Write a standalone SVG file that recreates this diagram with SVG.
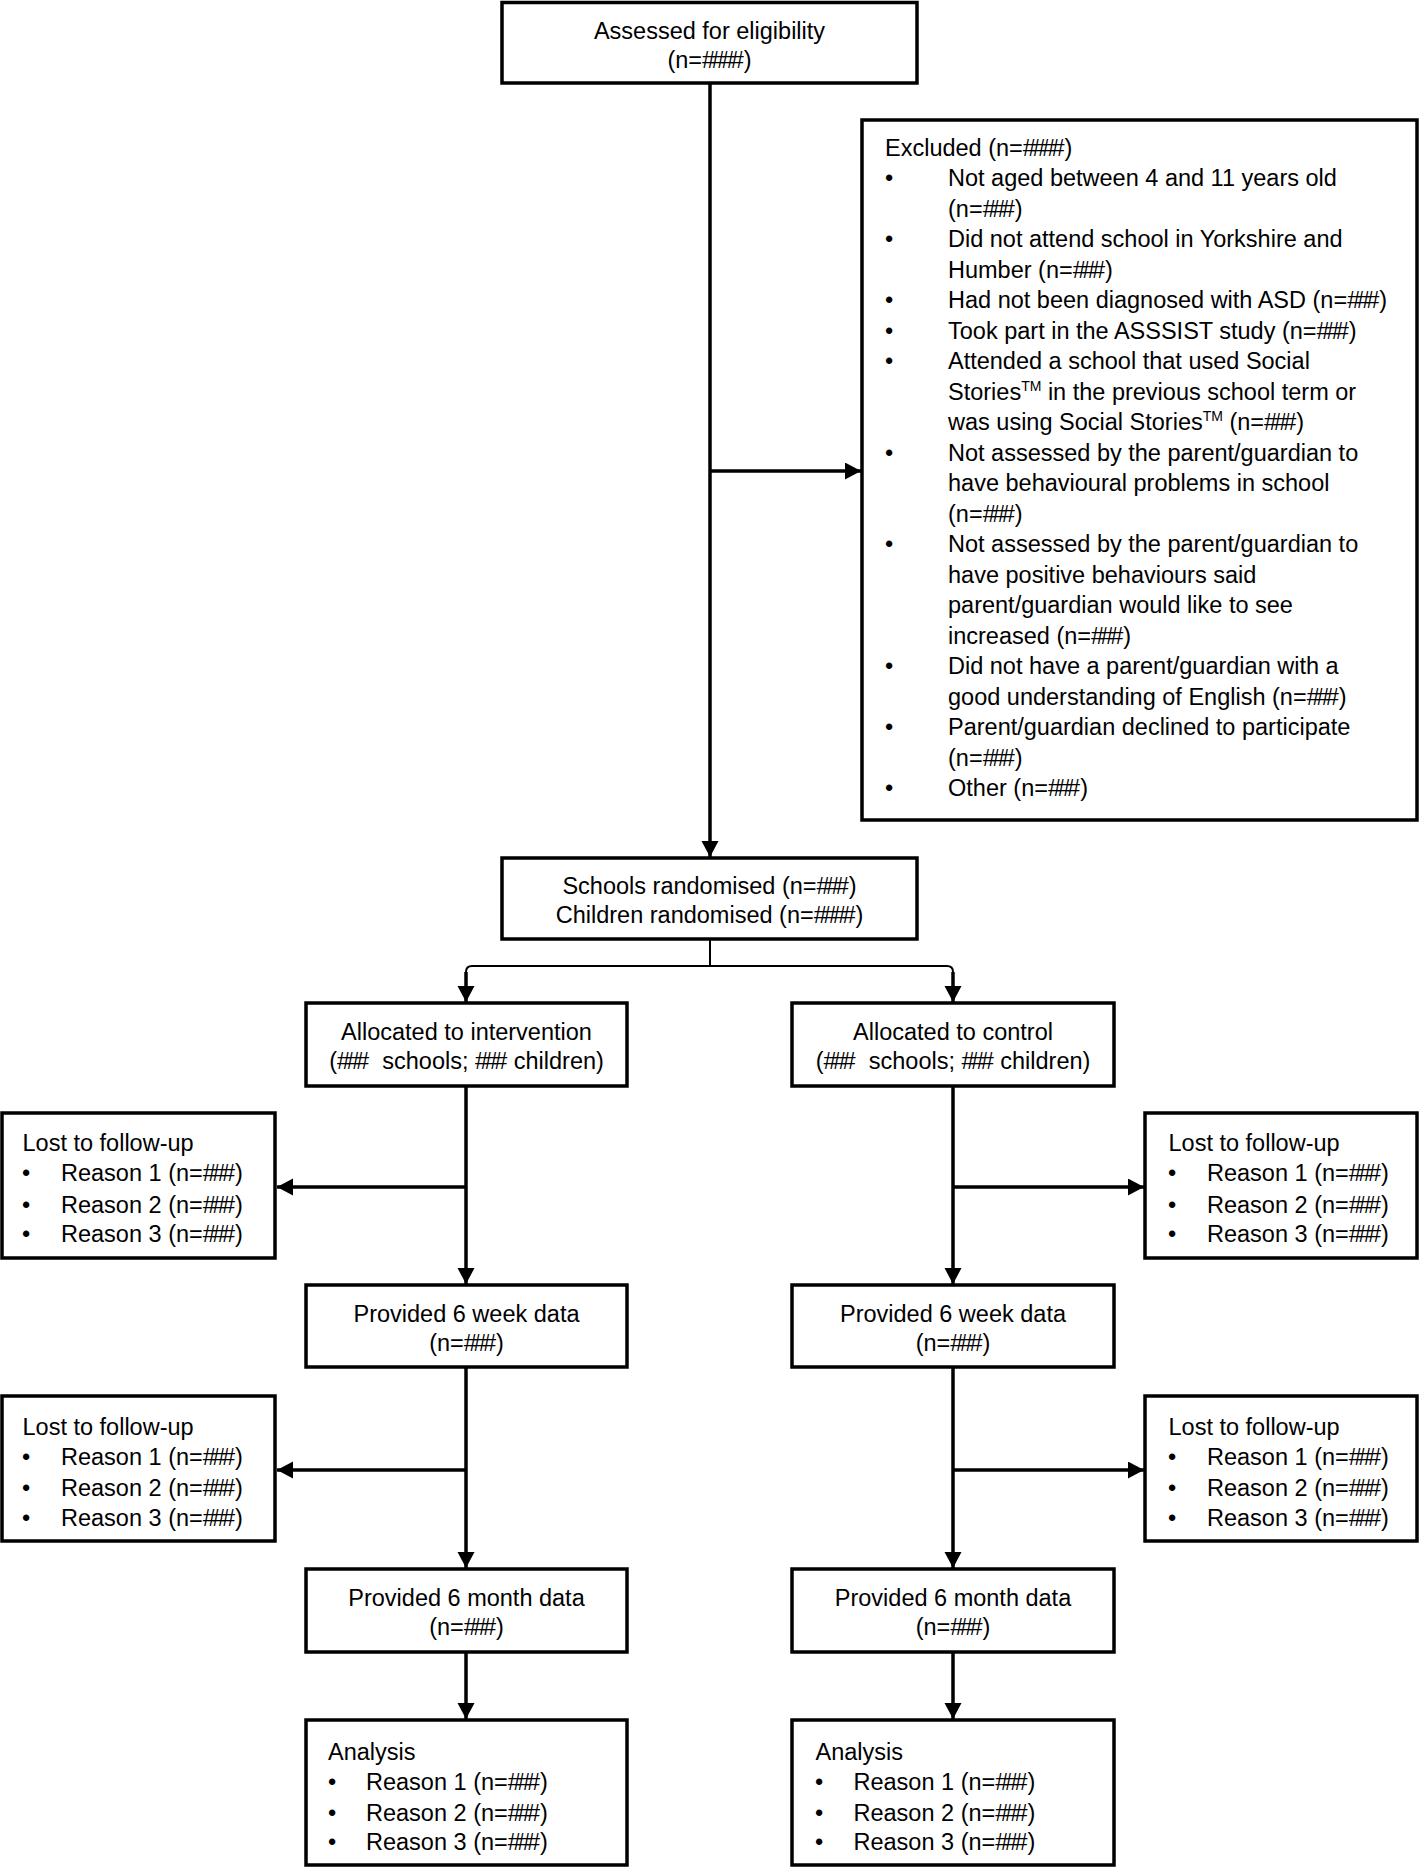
<svg xmlns="http://www.w3.org/2000/svg" width="1420" height="1868" viewBox="0 0 1420 1868">
<defs>
<marker id="ah" markerUnits="userSpaceOnUse" markerWidth="17" markerHeight="18" refX="16" refY="8.5" orient="auto">
<path d="M0,0 L16,8.5 L0,17 z" fill="#000"/>
</marker>
<style>
rect.box{fill:#fff;stroke:#000;stroke-width:3.5}
text{font-family:"Liberation Sans",Arial,sans-serif;font-size:23.5px;fill:#000}
text.c{text-anchor:middle}
.ln{fill:none;stroke:#000;stroke-width:3.5}
.thin{fill:none;stroke:#000;stroke-width:2}
.arr{marker-end:url(#ah)}
.sup{font-size:14px}
.h{letter-spacing:-3.5px}
</style>
</defs>
<rect width="1420" height="1868" fill="#fff"/>

<g id="connectors">
<path class="ln arr" d="M710,83 V857"/>
<path class="ln arr" d="M710,471 H861"/>
<path class="thin" d="M710,939 V966 M472,966 H947"/>
<path class="thin" d="M466,972 Q466,966 472,966 M947,966 Q953,966 953,972"/>
<path class="ln arr" d="M466,972 V1002"/>
<path class="ln arr" d="M953,972 V1002"/>
<path class="ln arr" d="M466,1086 V1284"/>
<path class="ln arr" d="M466,1187 H277"/>
<path class="ln arr" d="M953,1086 V1284"/>
<path class="ln arr" d="M953,1187 H1144"/>
<path class="ln arr" d="M466,1367 V1568"/>
<path class="ln arr" d="M466,1470 H277"/>
<path class="ln arr" d="M953,1367 V1568"/>
<path class="ln arr" d="M953,1470 H1144"/>
<path class="ln arr" d="M466,1652 V1719"/>
<path class="ln arr" d="M953,1652 V1719"/>
</g>

<g id="assessed">
<rect class="box" x="502" y="2.5" width="415" height="80.5"/>
<text class="c" x="709.5" y="39">Assessed for eligibility</text>
<text class="c" x="709.5" y="68">(n=<tspan class="h">###</tspan>#)</text>
</g>

<g id="excluded">
<rect class="box" x="862" y="120" width="555" height="700"/>
<text x="885" y="155.5">Excluded (n=<tspan class="h">###</tspan>#)</text>
<text x="885" y="186">•</text><text x="948" y="186">Not aged between 4 and 11 years old</text>
<text x="948" y="216.5">(n=<tspan class="h">##</tspan>#)</text>
<text x="885" y="247">•</text><text x="948" y="247">Did not attend school in Yorkshire and</text>
<text x="948" y="277.5">Humber (n=<tspan class="h">##</tspan>#)</text>
<text x="885" y="308">•</text><text x="948" y="308">Had not been diagnosed with ASD (n=<tspan class="h">##</tspan>#)</text>
<text x="885" y="338.5">•</text><text x="948" y="338.5">Took part in the ASSSIST study (n=<tspan class="h">##</tspan>#)</text>
<text x="885" y="369">•</text><text x="948" y="369">Attended a school that used Social</text>
<text x="948" y="399.5">Stories<tspan class="sup" dy="-9">TM</tspan><tspan dy="9"> in the previous school term or</tspan></text>
<text x="948" y="430">was using Social Stories<tspan class="sup" dy="-9">TM</tspan><tspan dy="9"> (n=</tspan><tspan class="h">##</tspan>#)</text>
<text x="885" y="460.5">•</text><text x="948" y="460.5">Not assessed by the parent/guardian to</text>
<text x="948" y="491">have behavioural problems in school</text>
<text x="948" y="521.5">(n=<tspan class="h">##</tspan>#)</text>
<text x="885" y="552">•</text><text x="948" y="552">Not assessed by the parent/guardian to</text>
<text x="948" y="582.5">have positive behaviours said</text>
<text x="948" y="613">parent/guardian would like to see</text>
<text x="948" y="643.5">increased (n=<tspan class="h">##</tspan>#)</text>
<text x="885" y="674">•</text><text x="948" y="674">Did not have a parent/guardian with a</text>
<text x="948" y="704.5">good understanding of English (n=<tspan class="h">##</tspan>#)</text>
<text x="885" y="735">•</text><text x="948" y="735">Parent/guardian declined to participate</text>
<text x="948" y="765.5">(n=<tspan class="h">##</tspan>#)</text>
<text x="885" y="796">•</text><text x="948" y="796">Other (n=<tspan class="h">##</tspan>#)</text>
</g>

<g id="randomised">
<rect class="box" x="502" y="858" width="415" height="81"/>
<text class="c" x="709.5" y="894">Schools randomised (n=<tspan class="h">##</tspan>#)</text>
<text class="c" x="709.5" y="923">Children randomised (n=<tspan class="h">###</tspan>#)</text>
</g>

<g id="alloc-intervention">
<rect class="box" x="306" y="1003" width="321" height="83"/>
<text class="c" x="466.5" y="1040">Allocated to intervention</text>
<text class="c" x="466.5" y="1069">(<tspan class="h">##</tspan># &#160;schools; <tspan class="h">##</tspan># children)</text>
</g>

<g id="alloc-control">
<rect class="box" x="792" y="1003" width="322" height="83"/>
<text class="c" x="953" y="1040">Allocated to control</text>
<text class="c" x="953" y="1069">(<tspan class="h">##</tspan># &#160;schools; <tspan class="h">##</tspan># children)</text>
</g>

<g id="lost-int-1">
<rect class="box" x="2" y="1113" width="273" height="145"/>
<text x="22.5" y="1151">Lost to follow-up</text>
<text x="22" y="1181">•</text><text x="61" y="1181">Reason 1 (n=<tspan class="h">##</tspan>#)</text>
<text x="22" y="1212.5">•</text><text x="61" y="1212.5">Reason 2 (n=<tspan class="h">##</tspan>#)</text>
<text x="22" y="1242">•</text><text x="61" y="1242">Reason 3 (n=<tspan class="h">##</tspan>#)</text>
</g>

<g id="lost-ctl-1">
<rect class="box" x="1145" y="1113" width="272" height="145"/>
<text x="1168.5" y="1151">Lost to follow-up</text>
<text x="1168" y="1181">•</text><text x="1207" y="1181">Reason 1 (n=<tspan class="h">##</tspan>#)</text>
<text x="1168" y="1212.5">•</text><text x="1207" y="1212.5">Reason 2 (n=<tspan class="h">##</tspan>#)</text>
<text x="1168" y="1242">•</text><text x="1207" y="1242">Reason 3 (n=<tspan class="h">##</tspan>#)</text>
</g>

<g id="week-int">
<rect class="box" x="306" y="1285" width="321" height="82"/>
<text class="c" x="466.5" y="1322">Provided 6 week data</text>
<text class="c" x="466.5" y="1351">(n=<tspan class="h">##</tspan>#)</text>
</g>

<g id="week-ctl">
<rect class="box" x="792" y="1285" width="322" height="82"/>
<text class="c" x="953" y="1322">Provided 6 week data</text>
<text class="c" x="953" y="1351">(n=<tspan class="h">##</tspan>#)</text>
</g>

<g id="lost-int-2">
<rect class="box" x="2" y="1396" width="273" height="145"/>
<text x="22.5" y="1435">Lost to follow-up</text>
<text x="22" y="1465">•</text><text x="61" y="1465">Reason 1 (n=<tspan class="h">##</tspan>#)</text>
<text x="22" y="1496">•</text><text x="61" y="1496">Reason 2 (n=<tspan class="h">##</tspan>#)</text>
<text x="22" y="1526">•</text><text x="61" y="1526">Reason 3 (n=<tspan class="h">##</tspan>#)</text>
</g>

<g id="lost-ctl-2">
<rect class="box" x="1145" y="1396" width="272" height="145"/>
<text x="1168.5" y="1435">Lost to follow-up</text>
<text x="1168" y="1465">•</text><text x="1207" y="1465">Reason 1 (n=<tspan class="h">##</tspan>#)</text>
<text x="1168" y="1496">•</text><text x="1207" y="1496">Reason 2 (n=<tspan class="h">##</tspan>#)</text>
<text x="1168" y="1526">•</text><text x="1207" y="1526">Reason 3 (n=<tspan class="h">##</tspan>#)</text>
</g>

<g id="month-int">
<rect class="box" x="306" y="1569" width="321" height="83"/>
<text class="c" x="466.5" y="1606">Provided 6 month data</text>
<text class="c" x="466.5" y="1635">(n=<tspan class="h">##</tspan>#)</text>
</g>

<g id="month-ctl">
<rect class="box" x="792" y="1569" width="322" height="83"/>
<text class="c" x="953" y="1606">Provided 6 month data</text>
<text class="c" x="953" y="1635">(n=<tspan class="h">##</tspan>#)</text>
</g>

<g id="analysis-int">
<rect class="box" x="306" y="1720" width="321" height="145"/>
<text x="328" y="1760">Analysis</text>
<text x="328" y="1790">•</text><text x="366" y="1790">Reason 1 (n=<tspan class="h">##</tspan>#)</text>
<text x="328" y="1821">•</text><text x="366" y="1821">Reason 2 (n=<tspan class="h">##</tspan>#)</text>
<text x="328" y="1850">•</text><text x="366" y="1850">Reason 3 (n=<tspan class="h">##</tspan>#)</text>
</g>

<g id="analysis-ctl">
<rect class="box" x="792" y="1720" width="322" height="145"/>
<text x="815.5" y="1760">Analysis</text>
<text x="815" y="1790">•</text><text x="853.5" y="1790">Reason 1 (n=<tspan class="h">##</tspan>#)</text>
<text x="815" y="1821">•</text><text x="853.5" y="1821">Reason 2 (n=<tspan class="h">##</tspan>#)</text>
<text x="815" y="1850">•</text><text x="853.5" y="1850">Reason 3 (n=<tspan class="h">##</tspan>#)</text>
</g>
</svg>
